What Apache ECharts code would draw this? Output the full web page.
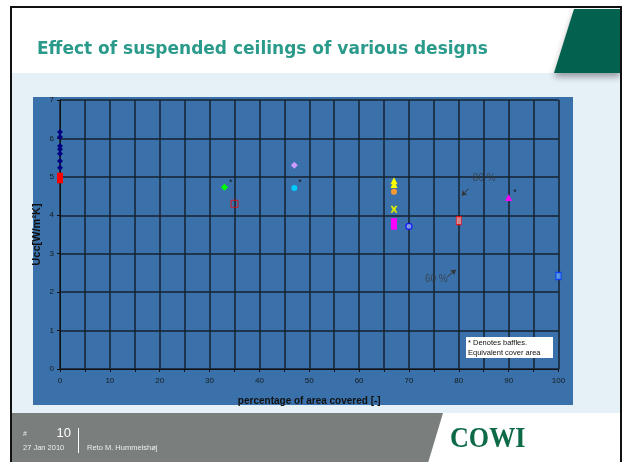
<!DOCTYPE html>
<html>
<head>
<meta charset="utf-8">
<script src="https://cdn.jsdelivr.net/npm/echarts@6/dist/echarts.min.js"></script>
<style>html,body{margin:0;padding:0;background:#fff}#c{width:622px;height:462px}</style>
</head>
<body>
<div id="c"></div>
<script>
// ---- data (x = % of area covered, y = Ucc [W/m²K]) ----
const xTicks = [0, 10, 20, 30, 40, 50, 60, 70, 80, 90, 100];
const yTicks = [0, 1, 2, 3, 4, 5, 6, 7];
const navyRef = [[0, 6.17], [0, 6.04], [0, 5.80], [0, 5.72], [0, 5.60], [0, 5.41], [0, 5.24]];
const redRef = [[0, 5.03], [0, 4.97], [0, 4.91]];
const green33 = [[33, 4.73]];
const redOpen35 = [[35, 4.30]];
const lavender47 = [[47, 5.30]];
const cyan47 = [[47, 4.71]];
const yellowTri67 = [[67, 4.90], [67, 4.80]];
const orange67 = [[67, 4.61]];
const star67 = [[67, 4.16]];
const magenta67 = [[67, 3.86], [67, 3.77], [67, 3.69]];
const blueRing70 = [[70, 3.71]];
const red80 = [[80, 3.86]];
const magentaTri90 = [[90, 4.46]];
const blue100 = [[100, 2.42]];
const noteTexts = ['80 %', '60 %'];
const notePos = [[85.1, 4.97], [75.5, 2.34]];
const arrows = [[[81.9, 4.69], [80.6, 4.51]], [[77.7, 2.40], [79.4, 2.58]]];

const chart = echarts.init(document.getElementById('c'), null, {renderer: 'canvas'});
const F = 'Liberation Sans, Arial, sans-serif';
const star = {show: true, formatter: '*', position: 'right', distance: 1, offset: [0, -5], color: '#1a1a1a', fontSize: 9, fontFamily: F};
function sc(name, data, symbol, size, color, extra) {
  return Object.assign({type: 'scatter', name: name, data: data, symbol: symbol, symbolSize: size,
    itemStyle: {color: color, opacity: 1}, z: 5}, extra || {});
}
const option = {
  animation: false,
  backgroundColor: '#ffffff',
  title: {
    text: 'Effect of suspended ceilings of various designs',
    left: 32, top: 36,
    textStyle: {color: '#2a9a8a', fontSize: 17, fontWeight: 'bold', fontFamily: 'DejaVu Sans, Verdana, sans-serif'}
  },
  grid: {left: 60, right: 63.5, top: 100, bottom: 93},
  xAxis: {
    type: 'value', min: 0, max: 100, interval: 5,
    name: 'percentage of area covered [-]', nameLocation: 'middle', nameGap: 27,
    nameTextStyle: {color: '#111', fontSize: 10, fontWeight: 'bold', fontFamily: F},
    axisLine: {show: true, lineStyle: {color: '#111', width: 1}},
    axisTick: {show: true, length: 3, lineStyle: {color: '#111'}},
    axisLabel: {color: '#1a1a1a', fontSize: 8, fontFamily: F, margin: 8,
      formatter: v => (xTicks.indexOf(v) >= 0 ? String(v) : '')},
    splitLine: {show: true, lineStyle: {color: '#16222e', width: 1.5}}
  },
  yAxis: {
    type: 'value', min: 0, max: 7, interval: 1,
    name: 'Ucc[W/m²K]', nameLocation: 'middle', nameGap: 18, nameRotate: 90, nameMoveOverlap: false,
    nameTextStyle: {color: '#111', fontSize: 11, fontWeight: 'bold', fontFamily: F},
    axisLine: {show: true, lineStyle: {color: '#111', width: 1}},
    axisTick: {show: true, length: 3, lineStyle: {color: '#111'}},
    axisLabel: {color: '#1a1a1a', fontSize: 8, fontFamily: F, margin: 6,
      formatter: v => (yTicks.indexOf(v) >= 0 ? String(v) : '')},
    splitLine: {show: true, lineStyle: {color: '#16222e', width: 1.5}}
  },
  series: [
    sc('navy', navyRef, 'diamond', 6, '#000080'),
    sc('red', redRef, 'rect', 6, '#ff0000'),
    sc('green', green33, 'diamond', 7, '#00ff00', {label: star}),
    sc('redOpen', redOpen35, 'rect', 7, 'rgba(0,0,0,0)', {itemStyle: {color: 'rgba(0,0,0,0)', borderColor: '#ff0000', borderWidth: 1}}),
    sc('lavender', lavender47, 'diamond', 7, '#cc99ff'),
    sc('cyan', cyan47, 'circle', 6, '#00ccff', {label: star}),
    sc('yellow', yellowTri67, 'triangle', 7, '#ffff00'),
    sc('orange', orange67, 'circle', 6, '#ff9933'),
    sc('star', star67, 'path://M0,0 L3,0 L5,3 L7,0 L10,0 L7,5 L10,10 L7,10 L5,7 L3,10 L0,10 L3,5 Z', 7, '#d8e800'),
    sc('magenta', magenta67, 'rect', [6, 5], '#ff00ff'),
    sc('blueRing', blueRing70, 'circle', 6, '#99aaff', {itemStyle: {color: '#99aaff', borderColor: '#0000ff', borderWidth: 1.2}}),
    sc('red80', red80, 'rect', [5, 8], '#ffcccc', {itemStyle: {color: '#ff9999', borderColor: '#ff0000', borderWidth: 1}}),
    sc('magentaTri', magentaTri90, 'triangle', 7, '#ff00ff', {label: star}),
    sc('blue100', blue100, 'rect', [5, 7], '#3377ff', {itemStyle: {color: '#66aaff', borderColor: '#0033ff', borderWidth: 1.2}}),
    {
      type: 'scatter', name: 'notes', symbol: 'circle', symbolSize: 1, silent: true,
      itemStyle: {color: 'rgba(0,0,0,0)'},
      data: notePos.map((p, i) => ({value: p, name: noteTexts[i]})),
      label: {show: true, position: 'inside', formatter: '{b}', color: '#3a3a3a', fontSize: 10, fontFamily: F}
    },
    {
      type: 'lines', coordinateSystem: 'cartesian2d', silent: true,
      symbol: ['none', 'arrow'], symbolSize: 5,
      lineStyle: {color: '#333', width: 1, opacity: 1},
      data: arrows.map(a => ({coords: a}))
    }
  ],
  graphic: [
    {type: 'rect', z: -20, shape: {x: 11, y: 7, width: 610, height: 460}, style: {fill: '#ffffff', stroke: '#111', lineWidth: 2}},
    {type: 'rect', z: -19, shape: {x: 12, y: 73, width: 608, height: 340}, style: {fill: '#e6f0f7'}},
    {type: 'rect', z: -18, shape: {x: 33, y: 97, width: 540, height: 308}, style: {fill: '#3a71aa'}},
    {type: 'polygon', z: -17, shape: {points: [[574, 9], [620, 9], [620, 73], [554, 73]]},
      style: {fill: '#03614f', shadowColor: 'rgba(0,0,0,0.35)', shadowBlur: 6, shadowOffsetY: 4}},
    {type: 'polygon', z: -17, shape: {points: [[12, 413], [443, 413], [428, 463], [12, 463]]}, style: {fill: '#7a7f7d'}},
    {type: 'text', z: 10, x: 450, y: 439, scaleX: 0.87, originX: 0, originY: 0, style: {text: 'COWI', fill: '#0d6a47', font: 'bold 30px "Liberation Serif", serif', textVerticalAlign: 'middle'}},
    {type: 'text', z: 10, x: 23, y: 434, style: {text: '#', fill: '#e8e8e8', font: '7px ' + F, textVerticalAlign: 'middle'}},
    {type: 'text', z: 10, x: 71, y: 433, style: {text: '10', fill: '#ffffff', font: '13px ' + F, textAlign: 'right', textVerticalAlign: 'middle'}},
    {type: 'line', z: 10, shape: {x1: 78.5, y1: 428, x2: 78.5, y2: 453}, style: {stroke: '#ffffff', lineWidth: 1}},
    {type: 'text', z: 10, x: 23, y: 448, style: {text: '27 Jan 2010', fill: '#eeeeee', font: '7.5px ' + F, textVerticalAlign: 'middle'}},
    {type: 'text', z: 10, x: 87, y: 448, style: {text: 'Reto M. Hummelshøj', fill: '#eeeeee', font: '7.5px ' + F, textVerticalAlign: 'middle'}},
    {type: 'rect', z: 100, shape: {x: 466, y: 337, width: 87, height: 21}, style: {fill: '#ffffff'}},
    {type: 'text', z: 101, x: 468, y: 342.5, style: {text: '* Denotes baffles.', fill: '#111', font: '7.5px ' + F, textVerticalAlign: 'middle'}},
    {type: 'text', z: 101, x: 468, y: 353, style: {text: 'Equivalent cover area', fill: '#111', font: '7.5px ' + F, textVerticalAlign: 'middle'}}
  ]
};
chart.setOption(option);
</script>
</body>
</html>
